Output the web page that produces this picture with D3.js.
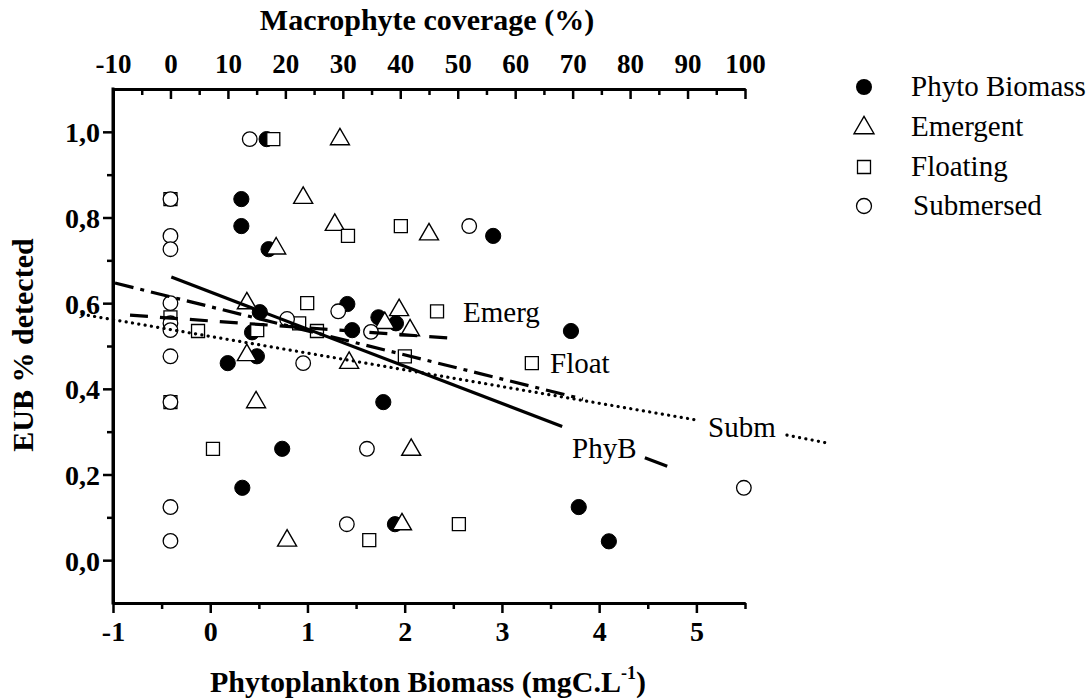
<!DOCTYPE html>
<html>
<head>
<meta charset="utf-8">
<script src="https://cdn.jsdelivr.net/npm/d3@7"></script>
<style>
  html, body { margin: 0; padding: 0; background: #fff; }
  svg { display: block; }
  text { font-family: "Liberation Serif", "Times New Roman", serif; fill: #000; }
</style>
</head>
<body>
<svg id="chart" width="1091" height="700"></svg>
<script>
// ---------------- DATA ----------------
// Phytoplankton biomass (bottom axis, mgC.L-1) vs EUB % detected
const phytoX = [0.58, 0.32, 0.32, 0.60, 2.91, 1.41, 0.51, 0.43, 0.18, 0.48, 1.73, 1.46, 1.91, 1.78, 0.74, 0.33, 1.90, 3.71, 3.79, 4.10];
const phytoY = [0.983, 0.843, 0.780, 0.726, 0.757, 0.598, 0.579, 0.532, 0.460, 0.476, 0.567, 0.537, 0.553, 0.369, 0.260, 0.169, 0.084, 0.535, 0.124, 0.044];

// Macrophyte coverage (top axis, %) vs EUB % detected
const emergX = [29.5, 23.1, 28.6, 45.0, 18.4, 13.3, 39.8, 37.3, 41.7, 13.3, 31.1, 14.9, 41.9, 40.3, 20.3];
const emergY = [0.985, 0.848, 0.785, 0.763, 0.730, 0.602, 0.586, 0.556, 0.539, 0.481, 0.463, 0.371, 0.260, 0.086, 0.048];

const floatX = [17.9, 0, 40.1, 30.9, 23.8, 46.4, 0, 4.8, 15.1, 22.4, 25.5, 40.8, 0, 7.4, 50.2, 34.6, 62.9];
const floatY = [0.983, 0.843, 0.780, 0.757, 0.600, 0.581, 0.567, 0.535, 0.537, 0.553, 0.535, 0.476, 0.369, 0.260, 0.084, 0.047, 0.460];

const submX = [13.8, 0, 0, 0, 52.0, 0, 29.2, 20.3, 0, 0, 0, 0, 0, 0, 34.9, 23.1, 34.2, 30.7, 99.8];
const submY = [0.983, 0.843, 0.757, 0.726, 0.780, 0.600, 0.581, 0.563, 0.553, 0.537, 0.476, 0.369, 0.124, 0.045, 0.533, 0.460, 0.260, 0.084, 0.169];

// Regression lines (segments, in axis units)
const phyBLine = [[[-0.40, 0.661], [3.62, 0.312]], [[4.47, 0.239], [4.70, 0.219]]];      // bottom axis
const emergLine = [[[-7.04, 0.572], [49.2, 0.518]]];                                      // top axis
const floatLine = [[[-9.65, 0.647], [71.8, 0.376]]];                                      // top axis
const submLine = [[[-15.4, 0.574], [91.65, 0.327]], [[107.3, 0.292], [114.5, 0.273]]];    // top axis

// Tick labels
const bottomTicks = [-1, 0, 1, 2, 3, 4, 5];
const bottomMinor = [-0.5, 0.5, 1.5, 2.5, 3.5, 4.5, 5.5];
const topTicks = [-10, 0, 10, 20, 30, 40, 50, 60, 70, 80, 90, 100];
const topMinor = [-5, 5, 15, 25, 35, 45, 55, 65, 75, 85, 95];
const yTicks = [0, 0.2, 0.4, 0.6, 0.8, 1.0];
const yMinor = [0.1, 0.3, 0.5, 0.7, 0.9];

const legendNames = ["Phyto Biomass", "Emergent", "Floating", "Submersed"];
const lineLabels = ["Emerg", "Float", "Subm", "PhyB"];

// ---------------- CHART ----------------
const svg = d3.select("#chart");
const L = 113, R = 745, T = 89, B = 603;

const xB = d3.scaleLinear().domain([-1, 5.5]).range([L, R]);
const xT = d3.scaleLinear().domain([-10, 100]).range([L, R]);
const y = d3.scaleLinear().domain([-0.1, 1.1]).range([B, T]);

const fmtY = d => d.toFixed(1).replace(".", ",");
const fmtInt = d => String(d);

function styleAxis(g, fs) {
  g.selectAll(".domain").attr("stroke", "#000").attr("stroke-width", 3);
  g.selectAll(".tick line").attr("stroke", "#000").attr("stroke-width", 2.5);
  g.selectAll(".tick text")
    .attr("font-family", "Liberation Serif, Times New Roman, serif")
    .attr("font-weight", "bold").attr("font-size", fs).attr("fill", "#000");
}

// Bottom axis
const gB = svg.append("g").attr("transform", `translate(0,${B})`);
gB.call(d3.axisBottom(xB).tickValues(bottomTicks).tickFormat(fmtInt)
  .tickSize(10).tickSizeOuter(0).tickPadding(8));
styleAxis(gB, 28);
const gBm = svg.append("g").attr("transform", `translate(0,${B})`);
gBm.call(d3.axisBottom(xB).tickValues(bottomMinor).tickFormat("").tickSize(6).tickSizeOuter(0));
styleAxis(gBm, 28);

// Top axis (ticks inward)
const gT = svg.append("g").attr("transform", `translate(0,${T})`);
gT.call(d3.axisTop(xT).tickValues(topTicks).tickFormat(fmtInt)
  .tickSize(-10).tickSizeOuter(0).tickPadding(16));
styleAxis(gT, 27);
const gTm = svg.append("g").attr("transform", `translate(0,${T})`);
gTm.call(d3.axisTop(xT).tickValues(topMinor).tickFormat("").tickSize(-6).tickSizeOuter(0));
styleAxis(gTm, 27);

// Left axis
const gL = svg.append("g").attr("transform", `translate(${L},0)`);
gL.call(d3.axisLeft(y).tickValues(yTicks).tickFormat(fmtY)
  .tickSize(10).tickSizeOuter(0).tickPadding(3));
styleAxis(gL, 28);
gL.selectAll(".tick text").attr("dy", "0.36em");
const gLm = svg.append("g").attr("transform", `translate(${L},0)`);
gLm.call(d3.axisLeft(y).tickValues(yMinor).tickFormat("").tickSize(6).tickSizeOuter(0));
styleAxis(gLm, 28);
svg.append("line").attr("x1", L).attr("x2", L).attr("y1", T - 1.5).attr("y2", B + 1.5)
  .attr("stroke", "#000").attr("stroke-width", 3);

// Axis titles
svg.append("text").attr("x", (L + R) / 2 - 2).attr("y", 30).attr("text-anchor", "middle")
  .attr("font-weight", "bold").attr("font-size", 30).text("Macrophyte coverage (%)");

const bt = svg.append("text").attr("x", (L + R) / 2 - 1).attr("y", 692).attr("text-anchor", "middle")
  .attr("font-weight", "bold").attr("font-size", 30);
bt.append("tspan").text("Phytoplankton Biomass (mgC.L");
bt.append("tspan").attr("font-size", 18).attr("dy", -13).text("-1");
bt.append("tspan").attr("dy", 13).text(")");

svg.append("text").attr("transform", `translate(33,345) rotate(-90)`).attr("text-anchor", "middle")
  .attr("font-weight", "bold").attr("font-size", 30).text("EUB % detected");

// Marker shapes
function circlePath(r) { return d3.symbol().type(d3.symbolCircle).size(Math.PI * r * r)(); }
function squarePath(s) { return `M${-s/2},${-s/2}h${s}v${s}h${-s}Z`; }
function triPath(s) {
  const h = s * Math.sqrt(3) / 2;
  return `M0,${-h * 2 / 3}L${s/2},${h/3}L${-s/2},${h/3}Z`;
}

const marks = svg.append("g");
marks.selectAll(".phy").data(d3.range(phytoX.length)).join("path")
  .attr("d", circlePath(7.6))
  .attr("transform", i => `translate(${xB(phytoX[i])},${y(phytoY[i])})`)
  .attr("fill", "#000").attr("stroke", "#000").attr("stroke-width", 1);
marks.selectAll(".em").data(d3.range(emergX.length)).join("path")
  .attr("d", triPath(19))
  .attr("transform", i => `translate(${xT(emergX[i])},${y(emergY[i]) + 1})`)
  .attr("fill", "#fff").attr("stroke", "#000").attr("stroke-width", 1.4);
marks.selectAll(".fl").data(d3.range(floatX.length)).join("path")
  .attr("d", squarePath(13))
  .attr("transform", i => `translate(${xT(floatX[i])},${y(floatY[i])})`)
  .attr("fill", "#fff").attr("stroke", "#000").attr("stroke-width", 1.3);
marks.selectAll(".sb").data(d3.range(submX.length)).join("path")
  .attr("d", circlePath(7.3))
  .attr("transform", i => `translate(${xT(submX[i])},${y(submY[i])})`)
  .attr("fill", "#fff").attr("stroke", "#000").attr("stroke-width", 1.3);

// Regression lines
function drawSegs(segs, xs, dash, cap) {
  segs.forEach(s => {
    svg.append("path")
      .attr("d", d3.line().x(d => xs(d[0])).y(d => y(d[1]))(s))
      .attr("fill", "none").attr("stroke", "#000").attr("stroke-width", 3.2)
      .attr("stroke-dasharray", dash).attr("stroke-linecap", cap || "butt");
  });
}
drawSegs(phyBLine, xB, null);
drawSegs(emergLine, xT, "18,12");
drawSegs(floatLine, xT, "19,7,4,7");
drawSegs(submLine, xT, "0.1,6.3", "round");

// Line labels
const labelPos = [[463, 322], [550, 373], [708, 437], [572, 458]];
lineLabels.forEach((t, i) => {
  svg.append("text").attr("x", labelPos[i][0]).attr("y", labelPos[i][1])
    .attr("font-size", 29).text(t);
});

// Legend
const legY = [87, 127, 167, 206];
const legShapes = [
  g => g.append("path").attr("d", circlePath(8)).attr("fill", "#000"),
  g => g.append("path").attr("d", triPath(20)).attr("transform", "translate(0,1)").attr("fill", "#fff").attr("stroke", "#000").attr("stroke-width", 1.4),
  g => g.append("path").attr("d", squarePath(13)).attr("fill", "#fff").attr("stroke", "#000").attr("stroke-width", 1.3),
  g => g.append("path").attr("d", circlePath(7.5)).attr("fill", "#fff").attr("stroke", "#000").attr("stroke-width", 1.3)
];
legendNames.forEach((n, i) => {
  const g = svg.append("g").attr("transform", `translate(864,${legY[i]})`);
  legShapes[i](g);
  svg.append("text").attr("x", i === 3 ? 913 : 911).attr("y", legY[i] + 8.5)
    .attr("font-size", 29).text(n);
});
</script>
</body>
</html>
